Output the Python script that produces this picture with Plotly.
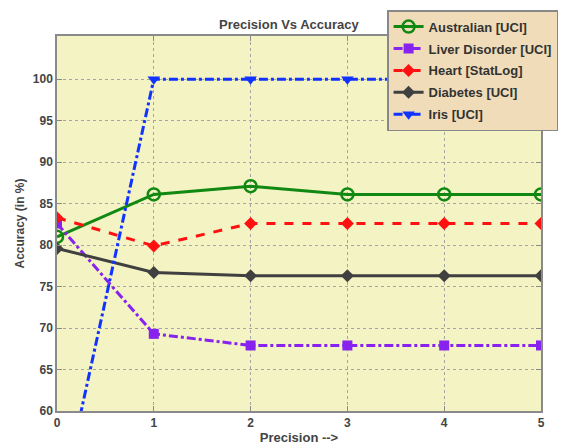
import plotly.graph_objects as go

precision = [0, 1, 2, 3, 4, 5]
australian = [81.0, 86.1, 87.1, 86.1, 86.1, 86.1]
liver = [82.6, 69.3, 67.9, 67.9, 67.9, 67.9]
heart = [83.3, 79.9, 82.6, 82.6, 82.6, 82.6]
diabetes = [79.6, 76.7, 76.3, 76.3, 76.3, 76.3]
iris = [46.67, 100.0, 100.0, 100.0, 100.0, 100.0]

series = [
    ("Australian [UCI]", australian, "#118811", "solid", "circle-open", 12),
    ("Liver Disorder [UCI]", liver, "#8822ee", "dashdot", "square", 10),
    ("Heart [StatLog]", heart, "#ff1111", "dash", "diamond", 10),
    ("Diabetes [UCI]", diabetes, "#404040", "solid", "diamond", 10),
    ("Iris [UCI]", iris, "#1133ff", "dashdot", "triangle-down", 11),
]

fig = go.Figure()
for i, (name, ys, col, dash, sym, sz) in enumerate(series):
    mk = dict(symbol=sym, size=sz, color=col)
    if sym == "circle-open":
        mk["line"] = dict(width=2.5, color=col)
    fig.add_trace(go.Scatter(
        x=precision, y=ys, name=name, mode="lines+markers",
        line=dict(color=col, width=3, dash=dash),
        marker=mk, legendgroup=f"g{i}",
    ))

font_fam = "Liberation Sans, Arial, sans-serif"
axis_common = dict(
    showgrid=True, gridcolor="#a5a5a5", griddash="dot", gridwidth=1,
    showline=True, linecolor="#8a8a8a", linewidth=1.5, mirror="ticks",
    ticks="inside", ticklen=5, tickcolor="#8a8a8a",
    tickfont=dict(family=font_fam, size=12, color="#444444", weight="bold"),
    zeroline=False,
)

fig.update_layout(
    width=571, height=448,
    margin=dict(l=49, r=38, t=28, b=45, autoexpand=False),
    paper_bgcolor="white", plot_bgcolor="#f3f3c3",
    title=dict(text="Precision Vs Accuracy", x=0.492, xanchor="center",
               y=1 - 16 / 448, yanchor="middle",
               font=dict(family=font_fam, size=13, color="#444444", weight="bold")),
    xaxis=dict(range=[0, 5], dtick=1,
               title=dict(text="Precision -->", standoff=4,
                          font=dict(family=font_fam, size=13, color="#444444", weight="bold")),
               **axis_common),
    yaxis=dict(range=[60, 105.2], tickvals=[60, 65, 70, 75, 80, 85, 90, 95, 100],
               title=dict(text="Accuracy (in %)", standoff=6,
                          font=dict(family=font_fam, size=12, color="#444444", weight="bold")),
               **axis_common),
    legend=dict(x=0.682, y=1.069, xanchor="left", yanchor="top",
                bgcolor="#f0dcb8", bordercolor="#888888", borderwidth=1.5,
                tracegroupgap=2, itemwidth=30, entrywidth=170,
                font=dict(family=font_fam, size=13, color="#333333", weight="bold")),
    showlegend=True,
)

fig.write_html("out.html")
